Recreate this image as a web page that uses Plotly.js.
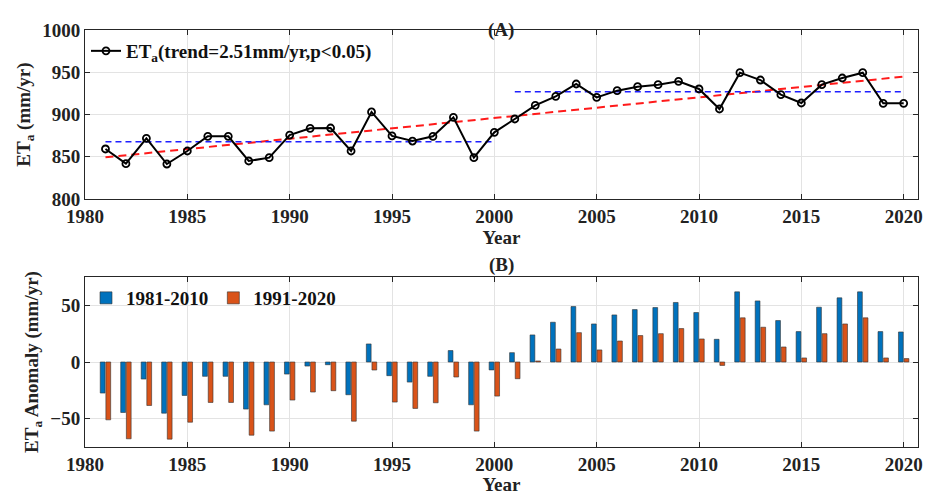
<!DOCTYPE html>
<html><head><meta charset="utf-8">
<script src="https://cdn.plot.ly/plotly-3.0.1.min.js"></script>
<style>html,body{margin:0;padding:0;background:#fff}#chart{width:925px;height:495px}</style>
</head><body><div id="chart"></div>
<script>
const years = [1981,1982,1983,1984,1985,1986,1987,1988,1989,1990,1991,1992,1993,1994,1995,1996,1997,1998,1999,2000,
               2001,2002,2003,2004,2005,2006,2007,2008,2009,2010,2011,2012,2013,2014,2015,2016,2017,2018,2019,2020];
const eta = [859.2,841.8,871.8,841.4,856.8,874.2,874.2,845.0,848.9,875.7,883.6,884.0,856.8,903.0,874.6,868.6,874.2,896.6,848.9,878.9,
             894.7,910.8,921.5,936.1,920.3,928.2,932.9,935.3,939.3,930.2,906.5,949.5,940.8,923.5,913.6,935.3,943.2,949.5,913.2,913.2];
const trendX = [1981, 2020];
const trendY = [849.3, 944.8];
const mean1X = [1981, 2000];
const mean1Y = [867.7, 867.7];
const mean2X = [2001, 2020];
const mean2Y = [926.8, 926.8];
const anom8110 = [-27.5,-44.7,-15.1,-45.3,-29.6,-12.7,-12.7,-41.7,-37.9,-10.7,-3.6,-2.4,-29.0,16.0,-12.1,-17.8,-12.7,10.1,-37.9,-7.0,
                  8.3,24.0,35.2,49.1,33.7,41.7,46.4,48.2,52.7,43.8,20.1,62.1,54.1,36.7,26.9,48.5,56.8,62.1,26.9,26.6];
const anom9120 = [-51.2,-68.0,-38.5,-68.3,-53.3,-35.8,-35.8,-64.8,-61.2,-33.7,-26.6,-25.4,-52.4,-7.1,-35.5,-41.1,-36.1,-13.3,-61.2,-30.2,
                  -14.8,0.9,11.5,26.0,10.7,18.6,23.4,25.1,29.6,20.4,-3.0,39.1,30.8,13.3,3.6,25.1,33.7,39.1,3.6,3.0];
const xTicks = [1980,1985,1990,1995,2000,2005,2010,2015,2020];

const FONT = 'Liberation Serif';
const tf = {family: FONT, size: 19, color: '#222', weight: 'bold'};

const traces = [
  {x: trendX, y: trendY, mode: 'lines', line: {color: '#ff1a1a', width: 2, dash: '8px,5px'}, showlegend: false, xaxis: 'x', yaxis: 'y'},
  {x: mean1X, y: mean1Y, mode: 'lines', line: {color: '#1f1fff', width: 1.5, dash: '6px,4px'}, showlegend: false, xaxis: 'x', yaxis: 'y'},
  {x: mean2X, y: mean2Y, mode: 'lines', line: {color: '#1f1fff', width: 1.5, dash: '6px,4px'}, showlegend: false, xaxis: 'x', yaxis: 'y'},
  {x: years, y: eta, mode: 'lines+markers', name: 'ET<sub>a</sub>(trend=2.51mm/yr,p&lt;0.05)',
   line: {color: '#000', width: 2}, marker: {symbol: 'circle-open', size: 7, color: '#000', line: {width: 1.8}},
   xaxis: 'x', yaxis: 'y', legend: 'legend'},
  {x: years, y: anom8110, type: 'bar', name: '1981-2010', marker: {color: '#0072BD', line: {color: '#333', width: 0.6}},
   xaxis: 'x2', yaxis: 'y2', legend: 'legend2'},
  {x: years, y: anom9120, type: 'bar', name: '1991-2020', marker: {color: '#D95319', line: {color: '#333', width: 0.6}},
   xaxis: 'x2', yaxis: 'y2', legend: 'legend2'}
];

const axX = (anchor) => ({
  domain: [85/925, 918/925], anchor: anchor, range: [1980, 2020.7],
  tickvals: xTicks, ticktext: xTicks.map(String), ticks: 'inside', ticklen: 5, tickcolor: '#262626',
  showline: true, linecolor: '#262626', linewidth: 1, mirror: 'ticks',
  showgrid: true, gridcolor: '#e3e3e3', zeroline: false, tickfont: tf,
  title: {text: 'Year', font: tf, standoff: 2}
});
const layout = {
  width: 925, height: 495, paper_bgcolor: '#fff', plot_bgcolor: '#fff',
  margin: {l: 0, r: 0, t: 0, b: 0},
  font: {family: FONT, color: '#222'},
  barmode: 'group', bargap: 0.45, bargroupgap: 0.15,
  xaxis: axX('y'),
  yaxis: {domain: [1-199/495, 1-30/495], anchor: 'x', range: [800, 1000], dtick: 50, tick0: 800,
    ticks: 'inside', ticklen: 5, tickcolor: '#262626', showline: true, linecolor: '#262626', linewidth: 1, mirror: 'ticks',
    showgrid: true, gridcolor: '#e3e3e3', zeroline: false, tickfont: tf,
    title: {text: 'ET<sub>a</sub> (mm/yr)', font: tf, standoff: 6}},
  xaxis2: axX('y2'),
  yaxis2: {domain: [1-446.7/495, 1-277.3/495], anchor: 'x2', range: [-75, 75], tickvals: [-50, 0, 50],
    ticks: 'inside', ticklen: 5, tickcolor: '#262626', showline: true, linecolor: '#262626', linewidth: 1, mirror: 'ticks',
    showgrid: true, gridcolor: '#e3e3e3', zeroline: false, tickfont: tf,
    title: {text: 'ET<sub>a</sub> Anomaly (mm/yr)', font: tf, standoff: 6}},
  legend: {x: 86/925, y: 1-32/495, xanchor: 'left', yanchor: 'top', bgcolor: 'rgba(255,255,255,0)',
    font: {family: FONT, size: 19, color: '#111', weight: 'bold'}},
  legend2: {x: 86/925, y: 1-279/495, xanchor: 'left', yanchor: 'top', orientation: 'h', bgcolor: 'rgba(255,255,255,0)',
    font: {family: FONT, size: 19, color: '#111', weight: 'bold'}},
  annotations: [
    {text: '<b>(A)</b>', x: 501/925, y: 1-17/495, xref: 'paper', yref: 'paper', showarrow: false, font: {family: FONT, size: 19, color: '#222'}},
    {text: '<b>(B)</b>', x: 501/925, y: 1-265/495, xref: 'paper', yref: 'paper', showarrow: false, font: {family: FONT, size: 19, color: '#222'}}
  ]
};
Plotly.newPlot('chart', traces, layout, {staticPlot: true, displayModeBar: false});
</script></body></html>
